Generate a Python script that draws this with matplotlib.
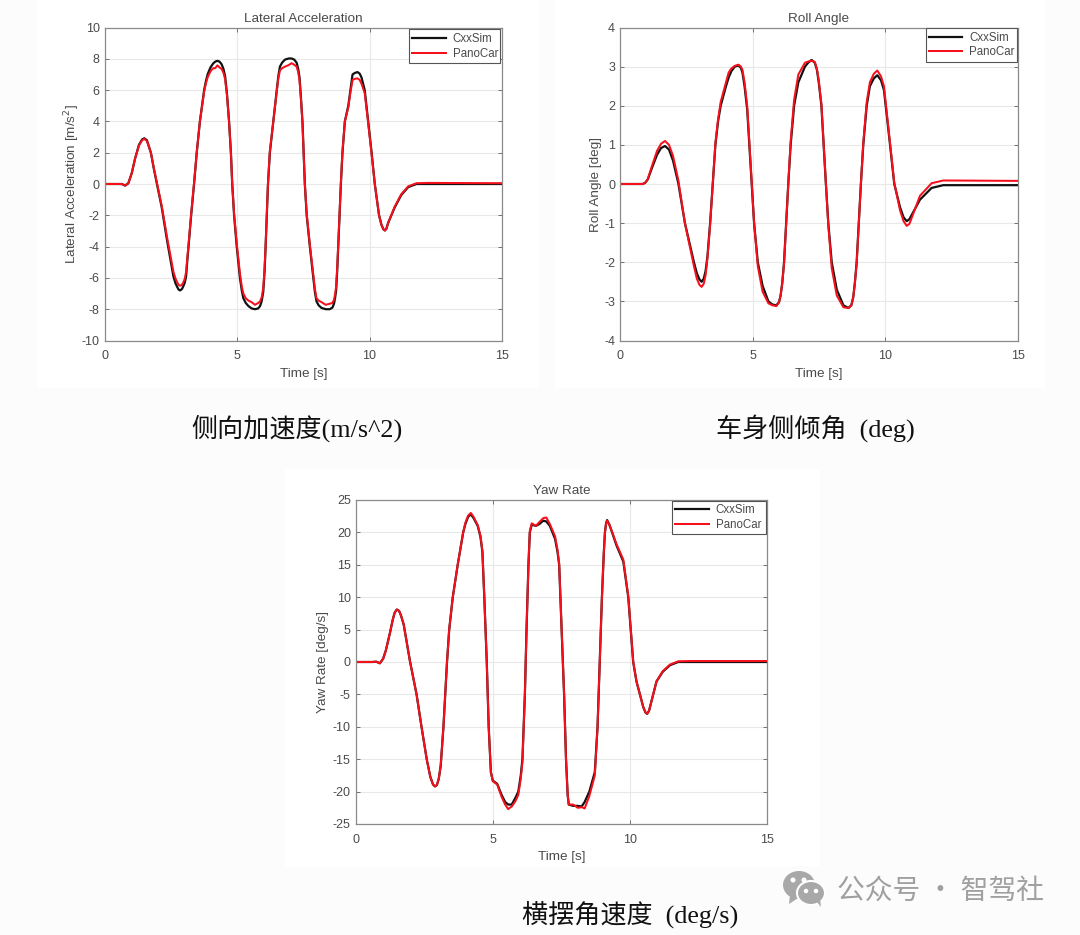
import matplotlib.pyplot as plt
import numpy as np
from matplotlib.patches import Ellipse, Polygon, Rectangle

plt.rcParams["font.family"] = ["Liberation Sans", "Noto Sans CJK SC"]
plt.rcParams["axes.unicode_minus"] = False

# Lateral acceleration
t_lat = [0, 0.5, 0.65, 0.78, 0.9, 1.03, 1.15, 1.3, 1.42, 1.5, 1.6, 1.75, 1.87, 2.16, 2.37, 2.6, 2.68, 2.75, 2.8, 2.85,
         2.92, 2.97, 3.03, 3.08, 3.12, 3.17, 3.27, 3.38, 3.48, 3.6, 3.76, 3.83, 3.9, 4.0, 4.1, 4.18, 4.26, 4.34, 4.42,
         4.49, 4.55, 4.62, 4.7, 4.77, 4.82, 4.89, 4.99, 5.11, 5.18, 5.24, 5.33, 5.43, 5.55, 5.68, 5.8, 5.87, 5.93, 5.99,
         6.04, 6.08, 6.17, 6.24, 6.37, 6.5, 6.56, 6.62, 6.7, 6.81, 6.95, 7.06, 7.16, 7.25, 7.31, 7.36, 7.41, 7.47, 7.56,
         7.63, 7.75, 7.88, 7.94, 8.0, 8.08, 8.19, 8.35, 8.5, 8.6, 8.66, 8.7, 8.74, 8.78, 8.82, 8.92, 8.98, 9.07, 9.2,
         9.28, 9.36, 9.45, 9.55, 9.63, 9.7, 9.82, 9.95, 10.08, 10.2, 10.36, 10.45, 10.52, 10.58, 10.64, 10.7, 10.95,
         11.2, 11.46, 11.77, 12.2, 15]
lat_cxx = [0, 0, 0, -0.1, 0.05, 0.7, 1.6, 2.5, 2.85, 2.92, 2.8, 2.0, 0.9, -1.5, -3.7, -5.9, -6.35, -6.6, -6.75, -6.8,
           -6.72, -6.55, -6.3, -5.9, -5.0, -4.0, -2.0, 0, 2.0, 4.0, 6.0, 6.6, 7.05, 7.45, 7.7, 7.82, 7.87, 7.82, 7.65,
           7.35, 6.9, 5.8, 4.0, 2.0, 0, -2.0, -4.0, -6.0, -6.8, -7.3, -7.6, -7.8, -7.95, -8.0, -7.95, -7.8, -7.5, -6.9,
           -5.6, -4.0, 0, 2.0, 4.0, 6.0, 6.9, 7.5, 7.75, 7.95, 8.02, 8.02, 7.95, 7.75, 7.35, 6.8, 5.6, 4.0, 0,
           -2.0, -4.0, -6.0, -6.9, -7.5, -7.75, -7.92, -8.0, -8.0, -7.9, -7.65, -7.3, -6.8, -5.6, -4.0, 0, 2.0, 4.0, 5.0,
           6.0, 7.0, 7.1, 7.15, 7.05, 6.8, 6.0, 4.0, 2.0, 0, -2.0, -2.6, -2.88, -2.97, -2.85, -2.5, -1.5,
           -0.7, -0.2, 0, 0, 0]
lat_pano = [0, 0, 0, -0.1, 0.05, 0.7, 1.6, 2.45, 2.8, 2.88, 2.75, 2.0, 0.95, -1.4, -3.5, -5.6, -6.05, -6.3, -6.45, -6.5,
            -6.45, -6.3, -6.05, -5.6, -4.8, -3.9, -1.9, 0.1, 2.0, 4.0, 5.9, 6.45, 6.85, 7.2, 7.4, 7.4, 7.58, 7.45, 7.35,
            7.1, 6.7, 5.7, 4.0, 2.0, 0, -1.9, -3.8, -5.7, -6.55, -7.0, -7.3, -7.45, -7.55, -7.72, -7.6, -7.5, -7.25, -6.65,
            -5.4, -3.9, 0.1, 2.1, 4.0, 5.9, 6.75, 7.25, 7.4, 7.5, 7.6, 7.72, 7.62, 7.5, 7.15, 6.6, 5.5, 3.9, 0,
            -1.9, -3.9, -5.8, -6.7, -7.3, -7.45, -7.55, -7.72, -7.65, -7.6, -7.4, -7.05, -6.55, -5.4, -3.9, 0.1, 2.1, 4.0, 4.9,
            5.85, 6.65, 6.72, 6.75, 6.65, 6.4, 5.8, 3.9, 1.9, 0, -2.0, -2.6, -2.88, -2.97, -2.85, -2.5, -1.45,
            -0.65, -0.15, 0.05, 0.07, 0.05]

# Roll angle
t_roll = [0, 0.85, 0.95, 1.05, 1.2, 1.4, 1.55, 1.7, 1.85, 2.0, 2.2, 2.45, 2.79, 2.9, 3.0, 3.08, 3.16, 3.23, 3.3, 3.4, 3.5,
          3.6, 3.7, 3.8, 4.0, 4.1, 4.2, 4.33, 4.47, 4.56, 4.62, 4.7, 4.8, 4.97, 5.06, 5.2, 5.38, 5.6, 5.75, 5.9, 6.0,
          6.06, 6.12, 6.19, 6.35, 6.44, 6.57, 6.73, 6.98, 7.1, 7.23, 7.35, 7.43, 7.5, 7.6, 7.77, 7.86, 7.99, 8.18, 8.43,
          8.62, 8.73, 8.8, 8.86, 8.93, 9.09, 9.18, 9.31, 9.43, 9.58, 9.71, 9.85, 9.96, 10.19, 10.35, 10.57, 10.7, 10.82,
          10.92, 11.0, 11.32, 11.76, 12.2, 15]
roll_cxx = [0, 0, 0.03, 0.12, 0.4, 0.75, 0.92, 0.97, 0.88, 0.6, 0.02, -1.0, -2.0, -2.28, -2.44, -2.5, -2.42, -2.22, -1.85, -1.0, 0,
            1.0, 1.6, 2.0, 2.5, 2.72, 2.88, 3.0, 3.03, 2.97, 2.85, 2.5, 1.9, 0, -1.0, -2.0, -2.6, -3.0, -3.08, -3.1, -3.02,
            -2.85, -2.55, -2.0, 0, 1.0, 2.0, 2.6, 3.0, 3.1, 3.17, 3.1, 2.92, 2.6, 2.0, 0, -1.0, -2.0, -2.7, -3.1,
            -3.17, -3.1, -2.9, -2.55, -2.0, 0, 1.0, 2.0, 2.5, 2.7, 2.78, 2.65, 2.4, 1.0, 0, -0.6, -0.85, -0.95,
            -0.9, -0.8, -0.4, -0.1, -0.03, -0.03]
roll_pano = [0, 0, 0.03, 0.13, 0.45, 0.85, 1.03, 1.1, 1.0, 0.72, 0.1, -1.0, -2.1, -2.42, -2.58, -2.63, -2.55, -2.33, -1.9, -1.05, 0,
             1.05, 1.65, 2.1, 2.6, 2.85, 2.95, 3.02, 3.05, 3.0, 2.92, 2.6, 2.0, 0.05, -1.0, -2.1, -2.75, -3.05, -3.1, -3.12, -3.03,
             -2.85, -2.55, -2.05, 0, 1.1, 2.15, 2.8, 3.1, 3.13, 3.15, 3.12, 2.95, 2.65, 2.05, 0, -1.05, -2.15, -2.85, -3.15,
             -3.17, -3.1, -2.9, -2.55, -2.05, 0, 1.05, 2.1, 2.6, 2.82, 2.9, 2.75, 2.5, 1.05, 0.03, -0.68, -0.95, -1.07,
             -1.02, -0.88, -0.3, 0.02, 0.09, 0.08]

# Yaw rate
t_yaw = [0, 0.6, 0.75, 0.88, 1.0, 1.1, 1.25, 1.35, 1.42, 1.5, 1.58, 1.65, 1.75, 1.98, 2.22, 2.4, 2.59, 2.72, 2.82, 2.89, 2.96,
         3.03, 3.1, 3.2, 3.33, 3.41, 3.54, 3.72, 3.92, 4.0, 4.1, 4.2, 4.3, 4.45, 4.55, 4.62, 4.69, 4.78, 4.85, 4.93, 5.0,
         5.16, 5.32, 5.45, 5.56, 5.69, 5.82, 5.93, 6.02, 6.08, 6.17, 6.23, 6.3, 6.35, 6.42, 6.57, 6.7, 6.84, 6.95, 7.08,
         7.27, 7.36, 7.42, 7.51, 7.6, 7.67, 7.73, 7.77, 7.93, 8.1, 8.24, 8.35, 8.52, 8.72, 8.82, 8.9, 8.98, 9.05, 9.09,
         9.13, 9.17, 9.25, 9.35, 9.51, 9.76, 9.94, 10.12, 10.24, 10.49, 10.57, 10.63, 10.7, 10.79, 10.97, 11.2, 11.46,
         11.76, 12.2, 15]
yaw_cxx = [0, 0, 0.05, -0.2, 0.5, 1.8, 4.5, 6.5, 7.6, 8.1, 7.9, 7.2, 5.8, 0.1, -5.0, -10.0, -15.0, -17.7, -18.9, -19.2, -19.0,
           -18.0, -16.0, -10.0, 0, 5.0, 10.0, 15.0, 20.0, 21.3, 22.4, 22.8, 22.2, 21.0, 19.3, 17.0, 10.0, 0, -10.0, -17.0, -18.3,
           -18.8, -20.5, -21.6, -22.0, -22.0, -21.0, -20.0, -17.5, -15.0, -5.0, 5.0, 15.0, 20.0, 21.2, 21.0, 21.3, 21.8, 21.7, 21.0,
           19.0, 17.0, 15.0, 5.0, -5.0, -15.0, -20.5, -22.0, -22.2, -22.2, -22.3, -21.6, -20.0, -17.0, -10.0, 0, 10.0, 17.0, 20.0,
           21.4, 21.9, 21.2, 20.0, 18.0, 15.5, 10.0, 0, -3.0, -7.0, -7.8, -8.0, -7.5, -6.0, -3.0, -1.5, -0.5,
           0, 0, 0]
yaw_pano = [0, 0, 0.05, -0.2, 0.5, 1.8, 4.5, 6.5, 7.6, 8.1, 7.9, 7.2, 5.8, 0.1, -5.0, -10.0, -15.0, -17.7, -18.9, -19.2, -19.0,
            -18.0, -16.0, -10.0, 0, 5.0, 10.0, 15.0, 20.0, 21.5, 22.6, 23.0, 22.4, 21.1, 19.5, 17.2, 10.0, 0, -10.0, -17.0, -18.4,
            -18.9, -20.8, -22.0, -22.7, -22.3, -21.5, -20.5, -18.0, -15.5, -5.0, 5.0, 15.0, 20.2, 21.4, 21.0, 21.6, 22.2, 22.3, 21.3,
            19.4, 17.3, 15.2, 5.0, -5.0, -15.0, -20.5, -22.0, -22.0, -22.5, -22.4, -22.6, -20.7, -17.5, -10.0, 0, 10.0, 17.0, 20.0,
            21.3, 21.8, 21.2, 20.1, 18.2, 15.8, 10.2, 0.1, -3.0, -7.0, -7.8, -8.0, -7.5, -6.0, -3.0, -1.4, -0.4,
            0.1, 0.15, 0.15]

x_ticks = [0, 5, 10, 15]
lat_ticks = list(range(-10, 11, 2))
roll_ticks = list(range(-4, 5))
yaw_ticks = list(range(-25, 26, 5))
series_names = ["CxxSim", "PanoCar"]
captions = ["侧向加速度(m/s^2)", "车身侧倾角  (deg)", "横摆角速度  (deg/s)"]
watermark = "公众号 · 智驾社"

W, H = 1080, 935
TEXT = "#4a4a4a"
fig = plt.figure(figsize=(W / 100, H / 100), dpi=100, facecolor="#fcfcfc")


def add_panel(box, t, cxx, pano, yticks, title, ylabel, ylabel_x, legend_box):
    left, top, right, bottom = box
    ax = fig.add_axes([left / W, 1 - bottom / H, (right - left) / W, (bottom - top) / H])
    ax.plot(t, cxx, color="#111111", lw=1.6, label=series_names[0])
    ax.plot(t, pano, color="#f5101c", lw=1.45, label=series_names[1])
    ax.set_xlim(0, 15)
    ax.set_ylim(yticks[0], yticks[-1])
    ax.set_xticks(x_ticks)
    ax.set_yticks(yticks)
    ax.grid(color="#e8e8e8", lw=0.8)
    ax.set_axisbelow(True)
    ax.tick_params(direction="in", top=True, right=True, length=3, width=0.7, color="#707070",
                   labelcolor=TEXT, labelsize=9, pad=3.5)
    ax.tick_params(axis="x", pad=7)
    for s in ax.spines.values():
        s.set_color("#8a8a8a")
        s.set_linewidth(0.9)
    ax.set_title(title, fontsize=9.7, color=TEXT, pad=4)
    ax.set_xlabel("Time [s]", fontsize=9.7, color=TEXT, labelpad=4)
    ax.set_ylabel(ylabel, fontsize=9.7, color=TEXT)
    ax.yaxis.set_label_coords((ylabel_x - left) / (right - left), 0.5)
    lx0, ly0, lx1, ly1 = legend_box
    leg = ax.legend(loc="center", bbox_to_anchor=((lx0 - left) / (right - left), 1 - (ly1 - top) / (bottom - top),
                                                  (lx1 - lx0) / (right - left), (ly1 - ly0) / (bottom - top)),
                    mode="expand", borderaxespad=0, fontsize=8.3, fancybox=False, framealpha=1, edgecolor="#555555",
                    handlelength=2.9, handletextpad=0.6, labelspacing=0.25, borderpad=0.3, labelcolor=TEXT)
    leg.get_frame().set_linewidth(0.8)
    return ax


# full figure overlay in pixel coords, for the pale panels behind the plots
bg = fig.add_axes([0, 0, 1, 1], zorder=-1)
bg.set_xlim(0, W)
bg.set_ylim(H, 0)
bg.axis("off")
bg.add_patch(Rectangle((38, 0), 500, 388, color="white", lw=0))
bg.add_patch(Rectangle((555, 0), 490, 388, color="white", lw=0))
bg.add_patch(Rectangle((285, 470), 535, 396, color="white", lw=0))

add_panel((104.5, 27.5, 502, 340.5), t_lat, lat_cxx, lat_pano, lat_ticks, "Lateral Acceleration",
          "Lateral Acceleration [m/s$^2$]", 82, (409, 30.5, 499.5, 62))
add_panel((620, 27.5, 1017.5, 340.5), t_roll, roll_cxx, roll_pano, roll_ticks, "Roll Angle",
          "Roll Angle [deg]", 602, (925.5, 29.5, 1016.5, 60.5))
add_panel((355.7, 500, 767, 824), t_yaw, yaw_cxx, yaw_pano, yaw_ticks, "Yaw Rate",
          "Yaw Rate [deg/s]", 329, (672, 501, 766, 534))

# captions, latin in a serif face
cap_fonts = ["Liberation Serif", "Noto Sans CJK SC"]
bg.text(296.5, 428, captions[0], fontsize=18.8, family=cap_fonts, ha="center", va="center", color="#111111")
bg.text(815, 428, captions[1], fontsize=18.8, family=cap_fonts, ha="center", va="center", color="#111111")
bg.text(630, 914, captions[2], fontsize=18.8, family=cap_fonts, ha="center", va="center", color="#111111")

# watermark: chat bubbles and text
over = fig.add_axes([0, 0, 1, 1], zorder=5)
over.set_xlim(0, W)
over.set_ylim(H, 0)
over.axis("off")
GREY = "#a8a8a8"
over.add_patch(Ellipse((799, 885), 32, 28, color=GREY, lw=0))
over.add_patch(Polygon([(790, 895), (789, 904), (798, 898)], color=GREY, lw=0))
over.add_patch(Ellipse((811, 893), 28, 24, color=GREY, ec="white", lw=1.5))
over.add_patch(Polygon([(817, 902), (821, 907), (820, 899)], color=GREY, lw=0))
for ex, ey in [(793, 880), (804, 880)]:
    over.add_patch(Ellipse((ex, ey), 5, 5, color="white", lw=0))
for ex, ey in [(806, 891), (816, 891)]:
    over.add_patch(Ellipse((ex, ey), 4.5, 4.5, color="white", lw=0))
over.text(940, 891, watermark, fontsize=20, color="#a0a0a0", ha="center", va="center",
          family=["Noto Sans CJK SC", "DejaVu Sans"])

fig.savefig("out.png", dpi=100, facecolor=fig.get_facecolor())
